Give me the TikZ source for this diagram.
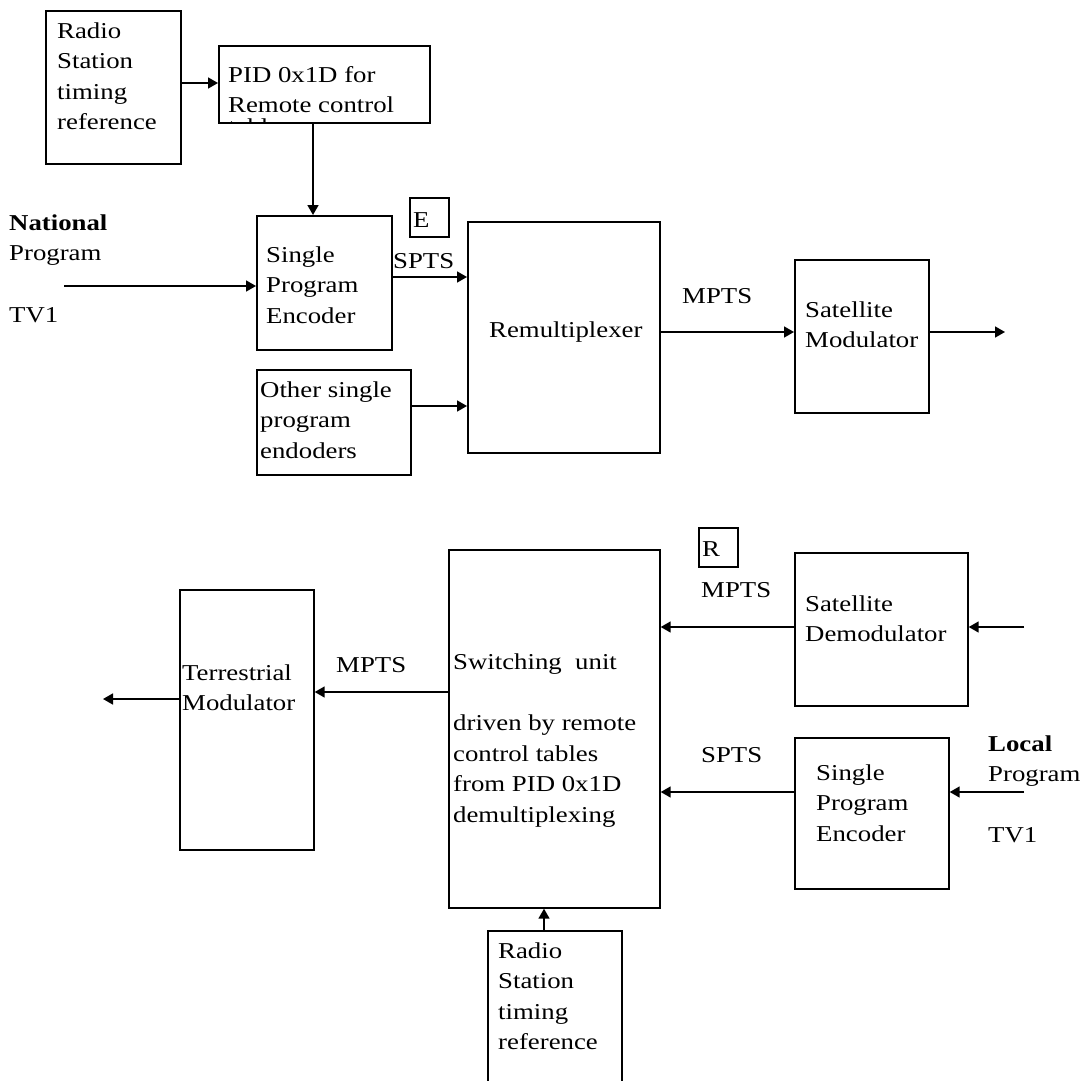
\documentclass[tikz,border=0pt]{standalone}
\usepackage{fontspec}
\setmainfont{Liberation Serif}[FakeStretch=1.18]
\usetikzlibrary{arrows.meta}
\tikzset{
  box/.style={draw, line width=1.7pt, inner sep=0pt, anchor=north west},
  txt/.style={font=\fontsize{22.7}{30.5}\selectfont, inner sep=0pt, align=left, anchor=base west},
  arr/.style={line width=1.7pt, -{Triangle[length=10pt,width=11pt]}},
}
\begin{document}
\begin{tikzpicture}[x=1pt,y=-1pt]
\clip (0,0) rectangle (1084,1081);
\fill[white] (0,0) rectangle (1084,1081);
% (text nodes are placed at the baseline of their LAST line)
% ---------- upper part ----------
\node[box, minimum width=135pt, minimum height=153pt] (radioA) at (45,10) {};
\node[txt] (radioAt) at (57,129.5) {Radio\\Station\\timing\\reference};
\begin{scope}
  \clip (218,45) rectangle (429,122);
  \node[txt] (pidt3) at (228,134) {tables};
\end{scope}
\node[box, minimum width=211pt, minimum height=77pt] (pid) at (218,45) {};
\node[txt] (pidt) at (228,112.5) {PID 0x1D for\\Remote control};
\node[box, minimum width=135pt, minimum height=134pt] (spe1) at (256,215) {};
\node[txt] (spe1t) at (266,323) {Single\\Program\\Encoder};
\node[box, minimum width=39pt, minimum height=39pt] (ebox) at (409,197) {};
\node[txt] (et) at (413,227) {E};
\node[txt] (sptsA) at (393,268) {SPTS};
\node[box, minimum width=192pt, minimum height=231pt] (remux) at (467,221) {};
\node[txt] (remuxt) at (489,337) {Remultiplexer};
\node[box, minimum width=154pt, minimum height=105pt] (other) at (256,369) {};
\node[txt] (othert) at (260,458) {Other single\\program\\endoders};
\node[box, minimum width=134pt, minimum height=153pt] (satmod) at (794,259) {};
\node[txt] (satmodt) at (805,347.5) {Satellite\\Modulator};
\node[txt] (mptsA) at (682,303) {MPTS};
\node[txt] (nat) at (9,260.5) {\textbf{National}\\Program};
\node[txt] (tvA) at (9,322) {TV1};
\coordinate (natin) at (64,286);
\coordinate (satout) at (1005,332);
\draw[arr] (radioA.east |- 0,83) -- (pid.west |- 0,83);
\draw[arr] (pid.south -| 313,0) -- (spe1.north -| 313,0);
\draw[arr] (natin) -- (spe1.west |- natin);
\draw[arr] (spe1.east |- 0,277) -- (remux.west |- 0,277);
\draw[arr] (other.east |- 0,406) -- (remux.west |- 0,406);
\draw[arr] (remux.east |- satout) -- (satmod.west |- satout);
\draw[arr] (satmod.east |- satout) -- (satout);
% ---------- lower part ----------
\node[box, minimum width=211pt, minimum height=358pt] (switch) at (448,549) {};
\node[txt] (switcht) at (453,822) {Switching~ unit\\[30.5pt]driven by remote\\control tables\\from PID 0x1D\\demultiplexing};
\node[box, minimum width=39pt, minimum height=39pt] (rbox) at (698,527) {};
\node[txt] (rt) at (702,556) {R};
\node[txt] (mptsB) at (701,597) {MPTS};
\node[box, minimum width=173pt, minimum height=153pt] (satdemod) at (794,552) {};
\node[txt] (satdemodt) at (805,641.5) {Satellite\\Demodulator};
\node[txt] (sptsB) at (701,762) {SPTS};
\node[box, minimum width=154pt, minimum height=151pt] (spe2) at (794,737) {};
\node[txt] (spe2t) at (816,841) {Single\\Program\\Encoder};
\node[txt] (loc) at (988,781.5) {\textbf{Local}\\Program};
\node[txt] (tvB) at (988,842) {TV1};
\node[box, minimum width=134pt, minimum height=260pt] (terr) at (179,589) {};
\node[txt] (terrt) at (182,710.5) {Terrestrial\\Modulator};
\node[txt] (mptsC) at (336,672) {MPTS};
\node[box, minimum width=134pt, minimum height=170pt] (radioB) at (487,930) {};
\node[txt] (radioBt) at (498,1049.5) {Radio\\Station\\timing\\reference};
\coordinate (satin) at (1024,627);
\coordinate (locin) at (1024,792);
\coordinate (terrout) at (103,699);
\draw[arr] (satin) -- (satdemod.east |- satin);
\draw[arr] (satdemod.west |- satin) -- (switch.east |- satin);
\draw[arr] (locin) -- (spe2.east |- locin);
\draw[arr] (spe2.west |- locin) -- (switch.east |- locin);
\draw[arr] (switch.west |- 0,692) -- (terr.east |- 0,692);
\draw[arr] (terr.west |- terrout) -- (terrout);
\draw[arr] (radioB.north -| 544,0) -- (switch.south -| 544,0);
\end{tikzpicture}
\end{document}
